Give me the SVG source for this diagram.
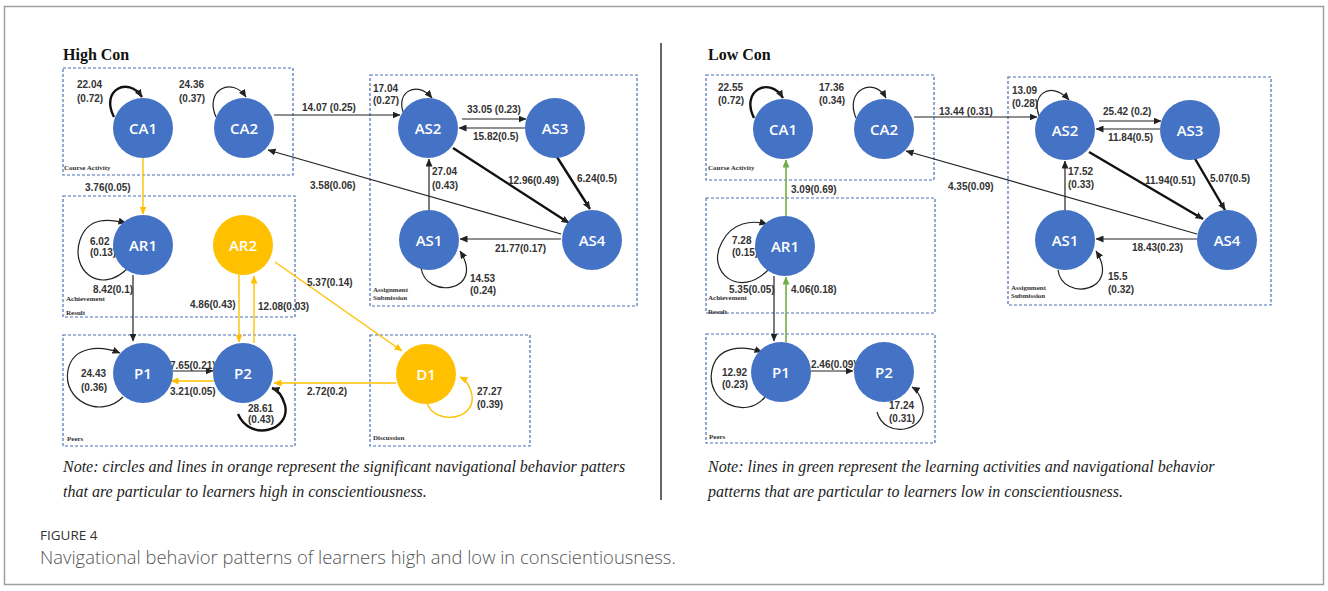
<svg xmlns="http://www.w3.org/2000/svg" width="1328" height="591" viewBox="0 0 1328 591">
<style>
.frame{fill:none;stroke:#a0a0a0;stroke-width:1.5}
.box{fill:none;stroke:#4a6fb5;stroke-width:1.2;stroke-dasharray:3 2}
.bl{font-family:"Liberation Serif",serif;font-weight:bold;font-size:7px;fill:#333}
.title{font-family:"Liberation Serif",serif;font-weight:bold;font-size:16px;fill:#111}
.note{font-family:"Liberation Serif",serif;font-style:italic;font-size:16px;fill:#222}
.nb{fill:#4472C4}
.no{fill:#FFC000}
.nt{font-family:"Open Sans",sans-serif;font-weight:600;font-size:15px;fill:#fff;text-anchor:middle;dominant-baseline:central}
.el{font-family:"Liberation Sans",sans-serif;font-weight:bold;font-size:10px;fill:#333}
.k{fill:none;stroke:#222;stroke-width:1.2}
.kt{fill:none;stroke:#111;stroke-width:2.4}
.o{fill:none;stroke:#FFC000;stroke-width:1.4}
.g{fill:none;stroke:#70AD47;stroke-width:1.6}
.fig{font-family:"Open Sans",sans-serif;font-size:13.5px;fill:#333}
.cap{font-family:"Open Sans",sans-serif;font-weight:300;font-size:18.4px;fill:#555}
</style>
<defs>
<marker id="ak" markerUnits="userSpaceOnUse" markerWidth="8" markerHeight="7" refX="7.5" refY="3.5" orient="auto"><path d="M0,0 L8,3.5 L0,7 z" fill="#222"/></marker>
<marker id="ao" markerUnits="userSpaceOnUse" markerWidth="8" markerHeight="7" refX="7.5" refY="3.5" orient="auto"><path d="M0,0 L8,3.5 L0,7 z" fill="#FFC000"/></marker>
<marker id="ag" markerUnits="userSpaceOnUse" markerWidth="8" markerHeight="7" refX="7.5" refY="3.5" orient="auto"><path d="M0,0 L8,3.5 L0,7 z" fill="#70AD47"/></marker>
</defs>
<rect x="0" y="0" width="1328" height="591" fill="#fff"/>
<rect class="frame" x="4.5" y="6.5" width="1319" height="578"/>
<line x1="661" y1="43" x2="661" y2="500" stroke="#666" stroke-width="2"/>

<!-- group boxes -->
<g id="boxes">
<rect class="box" x="63" y="68" width="230" height="107"/>
<rect class="box" x="370" y="75" width="267" height="231"/>
<rect class="box" x="63" y="196" width="232" height="121"/>
<rect class="box" x="63" y="335" width="232" height="111"/>
<rect class="box" x="370" y="335" width="160" height="111"/>
<rect class="box" x="706" y="75" width="228" height="105"/>
<rect class="box" x="1008" y="77" width="263" height="228"/>
<rect class="box" x="706" y="198" width="229" height="115"/>
<rect class="box" x="706" y="334" width="229" height="109"/>
<text class="bl" x="64" y="170">Course Activity</text>
<text class="bl" x="373" y="292">Assignment</text>
<text class="bl" x="373" y="300">Submission</text>
<text class="bl" x="66" y="301">Achievement</text>
<text class="bl" x="66" y="315">Result</text>
<text class="bl" x="67" y="441">Peers</text>
<text class="bl" x="373" y="440">Discussion</text>
<text class="bl" x="708" y="170">Course Activity</text>
<text class="bl" x="1011" y="290">Assignment</text>
<text class="bl" x="1011" y="298">Submission</text>
<text class="bl" x="708" y="300">Achievement</text>
<text class="bl" x="708" y="314">Result</text>
<text class="bl" x="709" y="439">Peers</text>
</g>

<text class="title" x="63" y="60">High Con</text>
<text class="title" x="708" y="60">Low Con</text>

<!-- connectors -->
<g id="connectors">
<!-- High Con -->
<path class="kt" d="M114,117 C100,90 128,76 142,97" marker-end="url(#ak)"/>
<path class="k" d="M216,117 C204,90 232,76 246,97" marker-end="url(#ak)"/>
<path class="k" d="M406,118 C392,95 415,78 432,98" marker-end="url(#ak)"/>
<path class="k" d="M421,268 C426,300 486,292 460,251" marker-end="url(#ak)"/>
<path class="k" d="M128,268 C100,296 70,270 80,240 C88,216 110,219 126,223" marker-end="url(#ak)"/>
<path class="k" d="M123,397 C100,420 62,400 68,370 C73,346 100,345 120,353" marker-end="url(#ak)"/>
<path class="kt" d="M238,414 C250,442 291,431 285,405 C282,395 278,390 272,388" marker-end="url(#ak)"/>
<path class="o" d="M427,403 C435,426 476,420 472,395 C470,385 466,380 460,377" marker-end="url(#ao)"/>
<path class="k" d="M274,115 L400,115" marker-end="url(#ak)"/>
<path class="k" d="M462,119 L526,119" marker-end="url(#ak)"/>
<path class="k" d="M525,128 L459,128" marker-end="url(#ak)"/>
<path class="k" d="M429,210 L429,159" marker-end="url(#ak)"/>
<path class="kt" d="M453,148 L569,223" marker-end="url(#ak)"/>
<path class="kt" d="M557,157 L590,209" marker-end="url(#ak)"/>
<path class="k" d="M561,239 L460,239" marker-end="url(#ak)"/>
<path class="k" d="M561,234 L268,150" marker-end="url(#ak)"/>
<path class="o" d="M143,158 L143,214" marker-end="url(#ao)"/>
<path class="k" d="M133,275 L133,341" marker-end="url(#ak)"/>
<path class="o" d="M239,275 L239,342" marker-end="url(#ao)"/>
<path class="o" d="M254,343 L254,276" marker-end="url(#ao)"/>
<path class="o" d="M275,262 L402,351" marker-end="url(#ao)"/>
<path class="k" d="M173,371 L213,371" marker-end="url(#ak)"/>
<path class="o" d="M214,381 L171,381" marker-end="url(#ao)"/>
<path class="o" d="M396,383 L274,383" marker-end="url(#ao)"/>
<!-- Low Con -->
<path class="kt" d="M754,118 C740,90 770,76 783,98" marker-end="url(#ak)"/>
<path class="k" d="M856,118 C844,90 874,76 886,98" marker-end="url(#ak)"/>
<path class="k" d="M1041,120 C1028,96 1050,79 1069,100" marker-end="url(#ak)"/>
<path class="k" d="M1058,270 C1062,302 1122,292 1096,251" marker-end="url(#ak)"/>
<path class="k" d="M769,269 C740,300 705,272 722,242 C732,222 752,220 767,224" marker-end="url(#ak)"/>
<path class="k" d="M765,397 C745,421 705,401 712,370 C717,346 742,345 762,352" marker-end="url(#ak)"/>
<path class="k" d="M877,412 C885,441 931,431 922,402 C920,395 917,390 912,387" marker-end="url(#ak)"/>
<path class="k" d="M914,117 L1037,117" marker-end="url(#ak)"/>
<path class="k" d="M1099,121 L1161,121" marker-end="url(#ak)"/>
<path class="k" d="M1160,129 L1096,129" marker-end="url(#ak)"/>
<path class="k" d="M1065,210 L1065,161" marker-end="url(#ak)"/>
<path class="kt" d="M1089,152 L1203,219" marker-end="url(#ak)"/>
<path class="kt" d="M1194,157 L1225,210" marker-end="url(#ak)"/>
<path class="k" d="M1197,239 L1096,239" marker-end="url(#ak)"/>
<path class="k" d="M1197,234 L906,151" marker-end="url(#ak)"/>
<path class="g" d="M786,218 L786,160" marker-end="url(#ag)"/>
<path class="k" d="M774,276 L774,341" marker-end="url(#ak)"/>
<path class="g" d="M786,342 L786,277" marker-end="url(#ag)"/>
<path class="k" d="M811,371 L853,371" marker-end="url(#ak)"/>

<!-- edge labels High -->
<text class="el" x="77" y="88">22.04</text><text class="el" x="77" y="102">(0.72)</text>
<text class="el" x="179" y="88">24.36</text><text class="el" x="179" y="102">(0.37)</text>
<text class="el" x="302" y="111">14.07 (0.25)</text>
<text class="el" x="85" y="191">3.76(0.05)</text>
<text class="el" x="310" y="189">3.58(0.06)</text>
<text class="el" x="373" y="92">17.04</text><text class="el" x="373" y="104">(0.27)</text>
<text class="el" x="467" y="113">33.05 (0.23)</text>
<text class="el" x="473" y="140">15.82(0.5)</text>
<text class="el" x="432" y="175">27.04</text><text class="el" x="432" y="189">(0.43)</text>
<text class="el" x="508" y="184">12.96(0.49)</text>
<text class="el" x="577" y="182">6.24(0.5)</text>
<text class="el" x="495" y="252">21.77(0.17)</text>
<text class="el" x="470" y="282">14.53</text><text class="el" x="470" y="294">(0.24)</text>
<text class="el" x="90" y="245">6.02</text><text class="el" x="90" y="256">(0.13)</text>
<text class="el" x="93" y="293">8.42(0.1)</text>
<text class="el" x="190" y="308">4.86(0.43)</text>
<text class="el" x="258" y="310">12.08(0.03)</text>
<text class="el" x="307" y="286">5.37(0.14)</text>
<text class="el" x="81" y="377">24.43</text><text class="el" x="81" y="391">(0.36)</text>
<text class="el" x="170" y="369">7.65(0.21)</text>
<text class="el" x="170" y="395">3.21(0.05)</text>
<text class="el" x="248" y="412">28.61</text><text class="el" x="248" y="423">(0.43)</text>
<text class="el" x="307" y="395">2.72(0.2)</text>
<text class="el" x="477" y="395">27.27</text><text class="el" x="477" y="408">(0.39)</text>
<!-- edge labels Low -->
<text class="el" x="718" y="91">22.55</text><text class="el" x="718" y="104">(0.72)</text>
<text class="el" x="819" y="91">17.36</text><text class="el" x="819" y="104">(0.34)</text>
<text class="el" x="939" y="115">13.44 (0.31)</text>
<text class="el" x="791" y="193">3.09(0.69)</text>
<text class="el" x="948" y="190">4.35(0.09)</text>
<text class="el" x="1012" y="94">13.09</text><text class="el" x="1012" y="107">(0.28)</text>
<text class="el" x="1103" y="115">25.42 (0.2)</text>
<text class="el" x="1108" y="141">11.84(0.5)</text>
<text class="el" x="1068" y="175">17.52</text><text class="el" x="1068" y="188">(0.33)</text>
<text class="el" x="1145" y="184">11.94(0.51)</text>
<text class="el" x="1210" y="182">5.07(0.5)</text>
<text class="el" x="1132" y="251">18.43(0.23)</text>
<text class="el" x="1108" y="280">15.5</text><text class="el" x="1108" y="293">(0.32)</text>
<text class="el" x="732" y="244">7.28</text><text class="el" x="732" y="256">(0.15)</text>
<text class="el" x="729" y="293">5.35(0.05)</text>
<text class="el" x="791" y="293">4.06(0.18)</text>
<text class="el" x="722" y="376">12.92</text><text class="el" x="722" y="388">(0.23)</text>
<text class="el" x="811" y="368">2.46(0.09)</text>
<text class="el" x="889" y="409">17.24</text><text class="el" x="889" y="422">(0.31)</text>
</g>

<!-- nodes High Con -->
<g id="h-CA1"><circle class="nb" cx="143" cy="128" r="30"/><text class="nt" x="143" y="128">CA1</text></g>
<g id="h-CA2"><circle class="nb" cx="244" cy="128" r="30"/><text class="nt" x="244" y="128">CA2</text></g>
<g id="h-AS2"><circle class="nb" cx="428" cy="128" r="30"/><text class="nt" x="428" y="128">AS2</text></g>
<g id="h-AS3"><circle class="nb" cx="555" cy="128" r="30"/><text class="nt" x="555" y="128">AS3</text></g>
<g id="h-AS1"><circle class="nb" cx="429" cy="240" r="30"/><text class="nt" x="429" y="240">AS1</text></g>
<g id="h-AS4"><circle class="nb" cx="592" cy="240" r="30"/><text class="nt" x="592" y="240">AS4</text></g>
<g id="h-AR1"><circle class="nb" cx="143" cy="245" r="30"/><text class="nt" x="143" y="245">AR1</text></g>
<g id="h-AR2"><circle class="no" cx="243" cy="245" r="30"/><text class="nt" x="243" y="245">AR2</text></g>
<g id="h-P1"><circle class="nb" cx="143" cy="373" r="30"/><text class="nt" x="143" y="373">P1</text></g>
<g id="h-P2"><circle class="nb" cx="243" cy="373" r="30"/><text class="nt" x="243" y="373">P2</text></g>
<g id="h-D1"><circle class="no" cx="426" cy="374" r="30"/><text class="nt" x="426" y="374">D1</text></g>
<!-- nodes Low Con -->
<g id="l-CA1"><circle class="nb" cx="783" cy="129" r="30"/><text class="nt" x="783" y="129">CA1</text></g>
<g id="l-CA2"><circle class="nb" cx="884" cy="129" r="30"/><text class="nt" x="884" y="129">CA2</text></g>
<g id="l-AS2"><circle class="nb" cx="1065" cy="130" r="30"/><text class="nt" x="1065" y="130">AS2</text></g>
<g id="l-AS3"><circle class="nb" cx="1190" cy="130" r="30"/><text class="nt" x="1190" y="130">AS3</text></g>
<g id="l-AS1"><circle class="nb" cx="1065" cy="240" r="30"/><text class="nt" x="1065" y="240">AS1</text></g>
<g id="l-AS4"><circle class="nb" cx="1227" cy="240" r="30"/><text class="nt" x="1227" y="240">AS4</text></g>
<g id="l-AR1"><circle class="nb" cx="785" cy="246" r="30"/><text class="nt" x="785" y="246">AR1</text></g>
<g id="l-P1"><circle class="nb" cx="781" cy="372" r="30"/><text class="nt" x="781" y="372">P1</text></g>
<g id="l-P2"><circle class="nb" cx="884" cy="372" r="30"/><text class="nt" x="884" y="372">P2</text></g>

<text class="note" x="63" y="472">Note: circles and lines in orange represent the significant navigational behavior patters</text>
<text class="note" x="63" y="497">that are particular to learners high in conscientiousness.</text>
<text class="note" x="708" y="472">Note: lines in green represent the learning activities and navigational behavior</text>
<text class="note" x="708" y="497">patterns that are particular to learners low in conscientiousness.</text>
<text class="fig" x="40" y="540">FIGURE 4</text>
<text class="cap" x="40" y="564">Navigational behavior patterns of learners high and low in conscientiousness.</text>
</svg>
